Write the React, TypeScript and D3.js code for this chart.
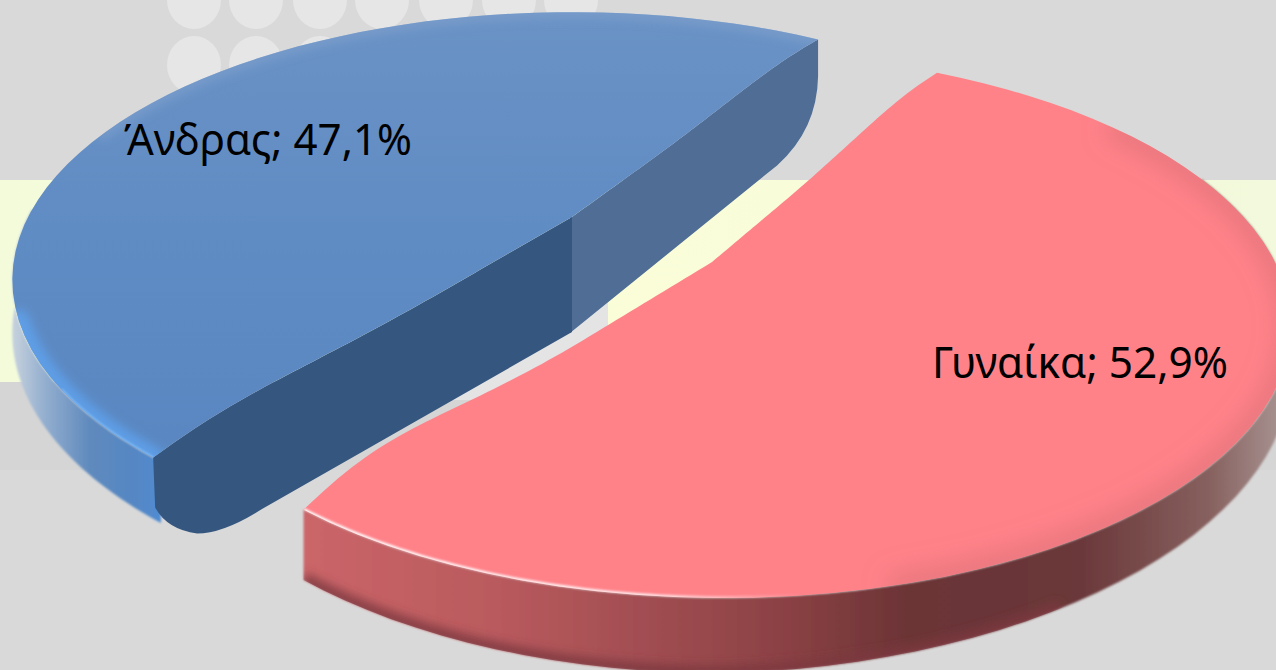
import React from 'react';
import * as d3 from 'd3';

const width = 1276;
const height = 670;

// data
const categories = ['Άνδρας', 'Γυναίκα'];
const shares = [47.1, 52.9];

// background dots (decoration of the slide behind the chart)
const dotColumns = [194, 256, 320, 382, 446, 509, 571];
const dotRows = [0, 65];

const rad = (deg: number) => (deg * Math.PI) / 180;

// perspective settings per slice: a circle in the pie's plane is projected to the screen
const sliceViews = [
  { apex: [572, 217], d: 544, k: 253, c: 0.235, g: 0, rotate: -138.88, stretch: 1.025, depth: 50, taper: 0, bowStart: 7, bowEnd: 4, label: [124, 155] },
  { apex: [712, 262], d: 554, k: 258.4, c: 0.231, g: 0.016, rotate: -141.5, stretch: 0.99, depth: 58, taper: 0.27, bowStart: 5, bowEnd: 16, label: [932, 378] },
];

type View = (typeof sliceViews)[number];

const project = (v: View, a: number, drop = 0): [number, number] => {
  const p = Math.sin(a);
  const q = -Math.cos(a);
  const w = 1 - v.c * q - v.g * p;
  const side = drop * (1 - v.taper * Math.max(0, p));
  return [v.apex[0] + (v.d * p) / w, v.apex[1] + (v.k * q) / w + side / w];
};

const line = d3.line<[number, number]>();
const samples = d3.range(0, 1.0001, 1 / 60);

const arcPoints = (v: View, a0: number, a1: number, drop = 0) =>
  samples.map((t) => project(v, a0 + (a1 - a0) * t, drop));

// straight edge from the centre to the rim, slightly bent up where the bevel rounds it
const edgePoints = (v: View, rim: [number, number], bow: number) =>
  samples.map((t): [number, number] => {
    const s = Math.max(0, (t - 0.3) / 0.7);
    return [
      v.apex[0] + (rim[0] - v.apex[0]) * t,
      v.apex[1] + (rim[1] - v.apex[1]) * t - bow * Math.sin(Math.PI * s * s),
    ];
  });

const slices = d3.pie<number>().sort(null)(shares);

const angles = slices.map((s, i) => {
  const v = sliceViews[i];
  const mid = (s.startAngle + s.endAngle) / 2;
  const half = ((s.endAngle - s.startAngle) / 2) * v.stretch;
  return [mid - half + rad(v.rotate), mid + half + rad(v.rotate)];
});

const topFace = (i: number) => {
  const v = sliceViews[i];
  const [a0, a1] = angles[i];
  const pts = [
    ...edgePoints(v, project(v, a0), v.bowStart),
    ...arcPoints(v, a0, a1),
    ...edgePoints(v, project(v, a1), v.bowEnd).reverse(),
  ];
  return line(pts) + 'Z';
};

const outerSide = (i: number, a0: number, a1: number) => {
  const v = sliceViews[i];
  return line([...arcPoints(v, a0, a1), ...arcPoints(v, a0, a1, v.depth).reverse()]) + 'Z';
};

const labelText = (i: number) => `${categories[i]}; ${shares[i].toFixed(1).replace('.', ',')}%`;

const gradientStops = (stops: [number, string][]) =>
  stops.map(([o, c]) => <stop key={o} offset={o} stopColor={c} />);

export default function App() {
  const blue = sliceViews[0];
  const pink = sliceViews[1];
  const [b0, b1] = angles[0];
  const [, p1] = angles[1];
  const bRim0 = project(blue, b0);
  const bRim1 = project(blue, b1);
  const bApex = blue.apex as [number, number];

  // cut faces of the blue slice, they follow the bent top edges and are rounded at the outer end
  const backBottom = d3.path();
  backBottom.moveTo(bRim1[0], bRim1[1]);
  backBottom.lineTo(bRim1[0], bRim1[1] + 37);
  backBottom.quadraticCurveTo(bRim1[0] - 1, bRim1[1] + 90, bRim1[0] - 41, bRim1[1] + 126);
  backBottom.lineTo(bApex[0] - 2, bApex[1] + 116);
  backBottom.lineTo(bApex[0] - 2, bApex[1]);
  const backFace =
    line(edgePoints(blue, bRim1, blue.bowEnd)) + 'L' + backBottom.toString().slice(1) + 'Z';

  const frontBottom = d3.path();
  frontBottom.moveTo(bRim0[0], bRim0[1]);
  frontBottom.lineTo(bRim0[0] + 2, bRim0[1] + 50);
  frontBottom.quadraticCurveTo(bRim0[0] + 14, bRim0[1] + 72, bRim0[0] + 44, bRim0[1] + 76);
  frontBottom.quadraticCurveTo(bRim0[0] + 70, bRim0[1] + 76, bRim0[0] + 108, bRim0[1] + 52);
  frontBottom.lineTo(bApex[0], bApex[1] + 115);
  const frontFace =
    line(edgePoints(blue, bRim0, blue.bowStart)) + 'L' + frontBottom.toString().slice(1) + 'Z';

  return (
    <svg
      width={width}
      height={height}
      viewBox={`0 0 ${width} ${height}`}
      style={{ position: 'absolute', left: 0, top: 0, display: 'block' }}
    >
      <defs>
        <linearGradient id="band" x1="0" x2="1" y1="0" y2="0">
          {gradientStops([[0, '#f3fbdb'], [0.5, '#fafdd8'], [1, '#f2f9dc']])}
        </linearGradient>
        <linearGradient id="blueTop" gradientUnits="userSpaceOnUse" x1="0" x2="0" y1="20" y2="440">
          {gradientStops([[0, '#6a92c5'], [0.5, '#608cc4'], [1, '#5a87c1']])}
        </linearGradient>
        <linearGradient id="blueSide" gradientUnits="userSpaceOnUse" x1="15" x2="165" y1="0" y2="0">
          {gradientStops([[0, '#c3cfdc'], [0.2, '#93aecf'], [0.5, '#5f8abd'], [0.8, '#5587c4'], [1, '#4f8cd4']])}
        </linearGradient>
        <linearGradient id="pinkSide" gradientUnits="userSpaceOnUse" x1="303" x2="1276" y1="0" y2="0">
          {gradientStops([[0, '#cb6669'], [0.2, '#b95a5e'], [0.36, '#a04d51'], [0.5, '#8a4144'], [0.62, '#6c3436'], [0.8, '#6b383a'], [0.93, '#86605e'], [1, '#a58f8d']])}
        </linearGradient>
        <linearGradient id="pinkShine" gradientUnits="userSpaceOnUse" x1="303" x2="800" y1="0" y2="0">
          <stop offset="0" stopColor="#ffffff" stopOpacity="0.95" />
          <stop offset="0.7" stopColor="#ffffff" stopOpacity="0.8" />
          <stop offset="1" stopColor="#ffffff" stopOpacity="0" />
        </linearGradient>
        <filter id="blur1" filterUnits="userSpaceOnUse" x="0" y="0" width={width} height={height}>
          <feGaussianBlur stdDeviation="1" />
        </filter>
        <filter id="blur5" filterUnits="userSpaceOnUse" x="0" y="0" width={width} height={height}>
          <feGaussianBlur stdDeviation="5" />
        </filter>
        <filter id="blur10" filterUnits="userSpaceOnUse" x="0" y="0" width={width} height={height}>
          <feGaussianBlur stdDeviation="12" />
        </filter>
        <clipPath id="blueClip"><path d={topFace(0)} /></clipPath>
        <clipPath id="pinkClip"><path d={topFace(1)} /></clipPath>
        <clipPath id="pinkSideClip"><path d={outerSide(1, rad(70), p1)} /></clipPath>
      </defs>

      {/* slide background */}
      <rect width={width} height={height} fill="#d9d9d9" />
      <rect y={180} width={width} height={202} fill="url(#band)" />
      <rect y={382} width={width} height={88} fill="#d5d5d5" />
      <rect x={440} y={300} width={168} height={100} fill="#e4e4e4" />
      {dotRows.map((cy) =>
        dotColumns.map((cx) => (
          <ellipse key={`${cx}-${cy}`} cx={cx} cy={cy} rx={27} ry={29} fill="#e6e6e6" />
        ))
      )}

      {/* blue slice */}
      <path d={outerSide(0, b0 - rad(1), rad(-88))} fill="url(#blueSide)" filter="url(#blur1)" />
      <path d={backFace} fill="#4f6d95" />
      <path d={frontFace} fill="#34567f" />
      <path d={topFace(0)} fill="url(#blueTop)" />
      <g clipPath="url(#blueClip)" fill="none">
        <path d={line(arcPoints(blue, b0, rad(-112))) ?? ''} stroke="#5fa2ee" strokeOpacity={0.8} strokeWidth={22} strokeLinecap="round" filter="url(#blur5)" />
        <path d={line(arcPoints(blue, b0, rad(-126))) ?? ''} stroke="#86bdf5" strokeOpacity={0.8} strokeWidth={3} filter="url(#blur1)" />
        <path d={line(arcPoints(blue, rad(-70), b1)) ?? ''} stroke="#8aa9d0" strokeOpacity={0.45} strokeWidth={12} filter="url(#blur5)" />
      </g>

      {/* pink slice */}
      <path d={outerSide(1, rad(70), p1)} fill="url(#pinkSide)" filter="url(#blur1)" />
      <g clipPath="url(#pinkSideClip)" fill="none">
        <path d={line(arcPoints(pink, rad(150), p1, pink.depth)) ?? ''} stroke="#7c3a3e" strokeOpacity={0.8} strokeWidth={16} filter="url(#blur5)" />
      </g>
      <path d={topFace(1)} fill="#ff8289" />
      <g clipPath="url(#pinkClip)" fill="none">
        <path d={line(arcPoints(pink, rad(55), rad(165))) ?? ''} stroke="#d96f73" strokeOpacity={0.65} strokeWidth={22} strokeLinecap="round" filter="url(#blur10)" />
        <path d={line(arcPoints(pink, rad(172), p1)) ?? ''} stroke="url(#pinkShine)" strokeWidth={4} filter="url(#blur1)" />
      </g>

      {/* data labels */}
      {slices.map((_, i) => (
        <text
          key={categories[i]}
          x={sliceViews[i].label[0]}
          y={sliceViews[i].label[1]}
          fontFamily="'Noto Sans', sans-serif"
          fontSize={43}
          fill="#000000"
          textLength={i === 0 ? 288 : 296}
          lengthAdjust="spacingAndGlyphs"
        >
          {labelText(i)}
        </text>
      ))}
    </svg>
  );
}
